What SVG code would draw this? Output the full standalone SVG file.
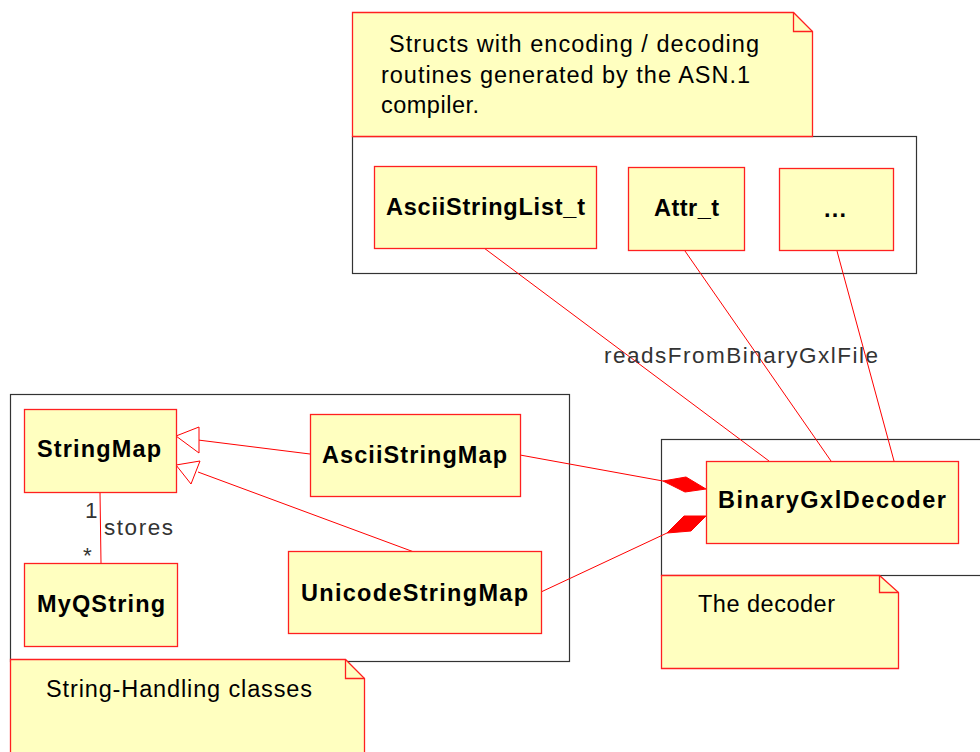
<svg xmlns="http://www.w3.org/2000/svg" width="980" height="752" viewBox="0 0 980 752">
<defs>
<style>
.pkg{fill:#ffffff;stroke:#333333;stroke-width:1.2}
.cls{fill:#ffffc0;stroke:#ff2020;stroke-width:1.3}
.note{fill:#ffffc0;stroke:#ff2020;stroke-width:1.3}
.fold{fill:none;stroke:#ff2020;stroke-width:1.3}
.cn{font-family:"Liberation Sans",Arial,sans-serif;font-weight:bold;font-size:23.5px;fill:#000}
.nt{font-family:"Liberation Sans",Arial,sans-serif;font-size:23.5px;fill:#000}
.lbl{font-family:"Liberation Sans",Arial,sans-serif;font-size:22.5px;fill:#333}
.ln{fill:none;stroke:#ff0000;stroke-width:1}
.gen{fill:#ffffff;stroke:#ff0000;stroke-width:1}
.dia{fill:#ff0000;stroke:#ff0000;stroke-width:1}
</style>
</defs>
<rect width="980" height="752" fill="#ffffff"/>

<!-- packages -->
<g id="pkg-asn">
<rect class="pkg" x="352.5" y="136.5" width="564" height="137"/>
</g>
<g id="pkg-strings">
<rect class="pkg" x="10.5" y="394.5" width="559" height="267"/>
</g>
<g id="pkg-decoder">
<rect class="pkg" x="661.5" y="439.5" width="330" height="136"/>
</g>

<!-- notes -->
<g id="note-asn">
<path class="note" d="M352.5,12.5 H793.5 L812.5,31.5 V136.5 H352.5 Z"/>
<path class="fold" d="M793.5,12.5 V31.5 H812.5"/>
<text class="nt" x="389" y="52" textLength="370" lengthAdjust="spacing">Structs with encoding / decoding</text>
<text class="nt" x="381" y="83" textLength="369" lengthAdjust="spacing">routines generated by the ASN.1</text>
<text class="nt" x="381" y="113" textLength="98" lengthAdjust="spacing">compiler.</text>
</g>
<g id="note-strings">
<path class="note" d="M10.5,659.5 H345.5 L364.5,678.5 V760 H10.5 Z"/>
<path class="fold" d="M345.5,659.5 V678.5 H364.5"/>
<text class="nt" x="46" y="697" textLength="266" lengthAdjust="spacing">String-Handling classes</text>
</g>
<g id="note-decoder">
<path class="note" d="M661.5,575.5 H879.5 L898.5,592.5 V668.5 H661.5 Z"/>
<path class="fold" d="M879.5,575.5 V592.5 H898.5"/>
<text class="nt" x="698" y="612" textLength="137" lengthAdjust="spacing">The decoder</text>
</g>

<!-- connectors -->
<g id="connectors">
<line class="ln" x1="484" y1="248" x2="769" y2="461"/>
<line class="ln" x1="685" y1="251" x2="831" y2="461"/>
<line class="ln" x1="837" y1="251" x2="894" y2="461"/>
<text class="lbl" x="604" y="363" textLength="274" lengthAdjust="spacing">readsFromBinaryGxlFile</text>

<line class="ln" x1="100" y1="492" x2="101" y2="563"/>
<text class="lbl" x="85" y="518">1</text>
<text class="lbl" x="104" y="535" textLength="69" lengthAdjust="spacing">stores</text>
<text class="lbl" x="83" y="563">*</text>

<line class="ln" x1="198" y1="440" x2="310" y2="454"/>
<polygon class="gen" points="176,436 199,427 199,453"/>
<line class="ln" x1="198" y1="472" x2="414" y2="552"/>
<polygon class="gen" points="176,465 200,461 191,484"/>

<line class="ln" x1="520" y1="455" x2="663" y2="481"/>
<polygon class="dia" points="706,489 686,477 663,481 685,492"/>
<line class="ln" x1="541" y1="592" x2="667" y2="533"/>
<polygon class="dia" points="706,516 684,516 667,533 691,531"/>
</g>

<!-- classes -->
<g id="AsciiStringList_t">
<rect class="cls" x="374.5" y="166.5" width="222" height="82"/>
<text class="cn" x="386" y="215" textLength="199" lengthAdjust="spacing">AsciiStringList_t</text>
</g>
<g id="Attr_t">
<rect class="cls" x="628.5" y="167.5" width="116" height="83"/>
<text class="cn" x="654" y="216" textLength="65" lengthAdjust="spacing">Attr_t</text>
</g>
<g id="more">
<rect class="cls" x="779.5" y="168.5" width="114" height="82"/>
<text class="cn" x="824" y="217" textLength="22" lengthAdjust="spacing">...</text>
</g>
<g id="StringMap">
<rect class="cls" x="24.5" y="409.5" width="152" height="83"/>
<text class="cn" x="37" y="457" textLength="124" lengthAdjust="spacing">StringMap</text>
</g>
<g id="AsciiStringMap">
<rect class="cls" x="310.5" y="414.5" width="210" height="82"/>
<text class="cn" x="322" y="463" textLength="185" lengthAdjust="spacing">AsciiStringMap</text>
</g>
<g id="MyQString">
<rect class="cls" x="24.5" y="563.5" width="153" height="83"/>
<text class="cn" x="37" y="612" textLength="128" lengthAdjust="spacing">MyQString</text>
</g>
<g id="UnicodeStringMap">
<rect class="cls" x="288.5" y="551.5" width="253" height="82"/>
<text class="cn" x="301" y="601" textLength="227" lengthAdjust="spacing">UnicodeStringMap</text>
</g>
<g id="BinaryGxlDecoder">
<rect class="cls" x="706.5" y="461.5" width="252" height="82"/>
<text class="cn" x="718" y="508" textLength="228" lengthAdjust="spacing">BinaryGxlDecoder</text>
</g>
</svg>
